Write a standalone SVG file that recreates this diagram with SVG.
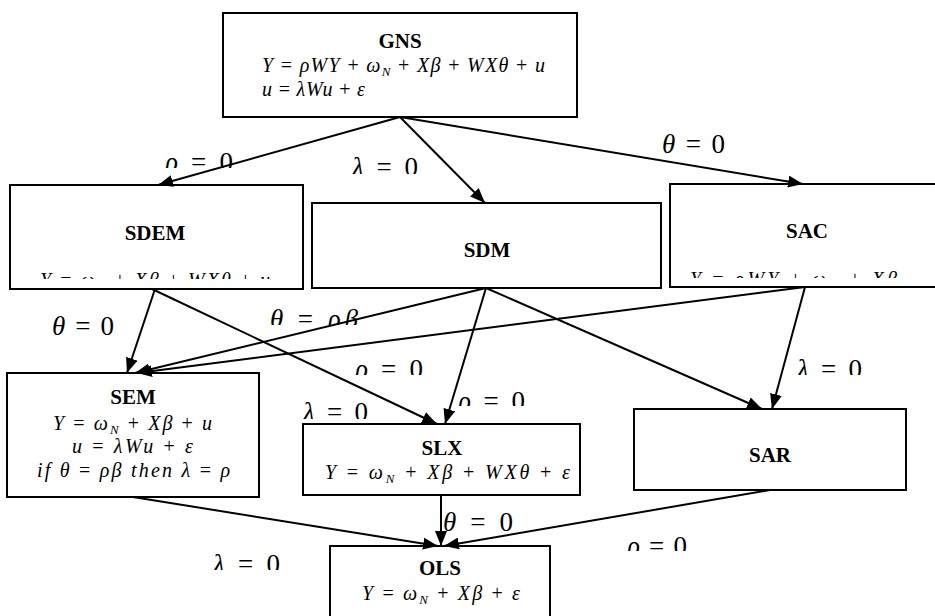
<svg xmlns="http://www.w3.org/2000/svg" width="935" height="616" viewBox="0 0 935 616" font-family="'Liberation Serif', 'Times New Roman', 'DejaVu Serif', serif">
<style>
.box{fill:#fff;stroke:#000;stroke-width:2}
text{font-family:'Liberation Serif','Times New Roman','DejaVu Serif',serif}
.t{font-size:21px;font-weight:bold;text-anchor:middle;fill:#000}
.f{font-size:20px;fill:#000}
.l{font-size:27px;fill:#000}
.i{font-style:italic}
.s{font-size:13px;font-style:italic}
.c{stroke:#000;stroke-width:2;fill:none;marker-end:url(#ah)}
</style>
<defs>
<marker id="ah" markerUnits="userSpaceOnUse" markerWidth="16" markerHeight="12" refX="15" refY="6" orient="auto">
<path d="M0,0 L15,6 L0,12 Z" fill="#000"/>
</marker>
<clipPath id="c1"><rect x="150" y="140" width="100" height="28"/></clipPath>
<clipPath id="c2"><rect x="340" y="145" width="100" height="29"/></clipPath>
<clipPath id="c5"><rect x="260" y="300" width="110" height="25"/></clipPath>
<clipPath id="c6"><rect x="345" y="350" width="90" height="25"/></clipPath>
<clipPath id="c7"><rect x="295" y="395" width="90" height="24"/></clipPath>
<clipPath id="c8"><rect x="450" y="380" width="90" height="26"/></clipPath>
<clipPath id="c9"><rect x="790" y="350" width="90" height="25"/></clipPath>
<clipPath id="c11"><rect x="205" y="545" width="90" height="25"/></clipPath>
<clipPath id="c12"><rect x="615" y="525" width="90" height="26"/></clipPath>
<clipPath id="cf1"><rect x="12" y="260" width="289" height="19"/></clipPath>
<clipPath id="cf2"><rect x="672" y="260" width="263" height="18"/></clipPath>
</defs>

<g id="GNS">
<rect class="box" x="223" y="13" width="354" height="104"/>
<text class="t" x="400" y="48">GNS</text>
<text class="f" x="262" y="72" textLength="283" lengthAdjust="spacing"><tspan class="i">Y</tspan> = <tspan class="i">ρWY</tspan> + <tspan class="i">ω</tspan><tspan class="s" dy="4">N</tspan><tspan dy="-4"> + </tspan><tspan class="i">Xβ</tspan> + <tspan class="i">WXθ</tspan> + <tspan class="i">u</tspan></text>
<text class="f" x="262" y="96" textLength="103" lengthAdjust="spacing"><tspan class="i">u</tspan> = <tspan class="i">λWu</tspan> + <tspan class="i">ε</tspan></text>
</g>

<g id="SDEM">
<rect class="box" x="10" y="185" width="293" height="104"/>
<text class="t" x="155" y="240">SDEM</text>
<g clip-path="url(#cf1)">
<text class="f" x="40" y="287" textLength="230" lengthAdjust="spacing"><tspan class="i">Y</tspan> = <tspan class="i">ω</tspan><tspan class="s" dy="4">N</tspan><tspan dy="-4"> + </tspan><tspan class="i">Xβ</tspan> + <tspan class="i">WXθ</tspan> + <tspan class="i">u</tspan></text>
</g>
</g>

<g id="SDM">
<rect class="box" x="312" y="203" width="349" height="85"/>
<text class="t" x="487" y="257">SDM</text>
</g>

<g id="SAC">
<rect class="box" x="670" y="184" width="280" height="103"/>
<text class="t" x="807" y="238">SAC</text>
<g clip-path="url(#cf2)">
<text class="f" x="690" y="286" textLength="207" lengthAdjust="spacing"><tspan class="i">Y</tspan> = <tspan class="i">ρWY</tspan> + <tspan class="i">ω</tspan><tspan class="s" dy="4">N</tspan><tspan dy="-4"> + </tspan><tspan class="i">Xβ</tspan></text>
</g>
</g>

<g id="SEM">
<rect class="box" x="7" y="373" width="252" height="124"/>
<text class="t" x="133" y="404">SEM</text>
<text class="f" x="53" y="430" textLength="159" lengthAdjust="spacing"><tspan class="i">Y</tspan> = <tspan class="i">ω</tspan><tspan class="s" dy="4">N</tspan><tspan dy="-4"> + </tspan><tspan class="i">Xβ</tspan> + <tspan class="i">u</tspan></text>
<text class="f" x="72" y="453" textLength="121" lengthAdjust="spacing"><tspan class="i">u</tspan> = <tspan class="i">λWu</tspan> + <tspan class="i">ε</tspan></text>
<text class="f" x="37" y="477" textLength="193" lengthAdjust="spacing"><tspan class="i">if θ</tspan> = <tspan class="i">ρβ then λ</tspan> = <tspan class="i">ρ</tspan></text>
</g>

<g id="SLX">
<rect class="box" x="303" y="424" width="277" height="71"/>
<text class="t" x="442" y="455">SLX</text>
<text class="f" x="325" y="479" textLength="245" lengthAdjust="spacing"><tspan class="i">Y</tspan> = <tspan class="i">ω</tspan><tspan class="s" dy="4">N</tspan><tspan dy="-4"> + </tspan><tspan class="i">Xβ</tspan> + <tspan class="i">WXθ</tspan> + <tspan class="i">ε</tspan></text>
</g>

<g id="SAR">
<rect class="box" x="634" y="409" width="272" height="81"/>
<text class="t" x="770" y="462">SAR</text>
</g>

<g id="OLS">
<rect class="box" x="330" y="546" width="220" height="80"/>
<text class="t" x="440" y="575">OLS</text>
<text class="f" x="362" y="600" textLength="158" lengthAdjust="spacing"><tspan class="i">Y</tspan> = <tspan class="i">ω</tspan><tspan class="s" dy="4">N</tspan><tspan dy="-4"> + </tspan><tspan class="i">Xβ</tspan> + <tspan class="i">ε</tspan></text>
</g>

<g id="connectors">
<line class="c" x1="400" y1="117" x2="158" y2="185"/>
<line class="c" x1="400" y1="117" x2="485" y2="203"/>
<line class="c" x1="400" y1="117" x2="803" y2="184"/>
<line class="c" x1="155" y1="289" x2="127" y2="373"/>
<line class="c" x1="152" y1="289" x2="437" y2="424"/>
<line class="c" x1="486" y1="288" x2="135" y2="373"/>
<line class="c" x1="486" y1="288" x2="445" y2="424"/>
<line class="c" x1="486" y1="288" x2="762" y2="409"/>
<line class="c" x1="805" y1="287" x2="137" y2="373"/>
<line class="c" x1="805" y1="287" x2="772" y2="409"/>
<line class="c" x1="133" y1="497" x2="438" y2="546"/>
<line class="c" x1="441" y1="495" x2="441" y2="546"/>
<line class="c" x1="770" y1="490" x2="444" y2="546"/>
</g>

<g id="labels">
<g clip-path="url(#c1)"><text class="l" x="165" y="171" textLength="68" lengthAdjust="spacing"><tspan class="i">ρ</tspan> = 0</text></g>
<g clip-path="url(#c2)"><text class="l" x="352" y="176" textLength="66" lengthAdjust="spacing"><tspan class="i">λ</tspan> = 0</text></g>
<text class="l" x="662" y="153" textLength="63" lengthAdjust="spacing"><tspan class="i">θ</tspan> = 0</text>
<text class="l" x="52" y="335" textLength="62" lengthAdjust="spacing"><tspan class="i">θ</tspan> = 0</text>
<g clip-path="url(#c5)"><text class="l" x="270" y="328" textLength="88" lengthAdjust="spacing"><tspan class="i">θ</tspan> = <tspan class="i">ρβ</tspan></text></g>
<g clip-path="url(#c6)"><text class="l" x="355" y="378" textLength="68" lengthAdjust="spacing"><tspan class="i">ρ</tspan> = 0</text></g>
<g clip-path="url(#c7)"><text class="l" x="303" y="421" textLength="65" lengthAdjust="spacing"><tspan class="i">λ</tspan> = 0</text></g>
<g clip-path="url(#c8)"><text class="l" x="458" y="410" textLength="67" lengthAdjust="spacing"><tspan class="i">ρ</tspan> = 0</text></g>
<g clip-path="url(#c9)"><text class="l" x="797" y="378" textLength="65" lengthAdjust="spacing"><tspan class="i">λ</tspan> = 0</text></g>
<text class="l" x="443" y="531" textLength="70" lengthAdjust="spacing"><tspan class="i">θ</tspan> = 0</text>
<g clip-path="url(#c11)"><text class="l" x="213" y="573" textLength="67" lengthAdjust="spacing"><tspan class="i">λ</tspan> = 0</text></g>
<g clip-path="url(#c12)"><text class="l" x="627" y="555" textLength="60" lengthAdjust="spacing"><tspan class="i">ρ</tspan> = 0</text></g>
</g>
</svg>
